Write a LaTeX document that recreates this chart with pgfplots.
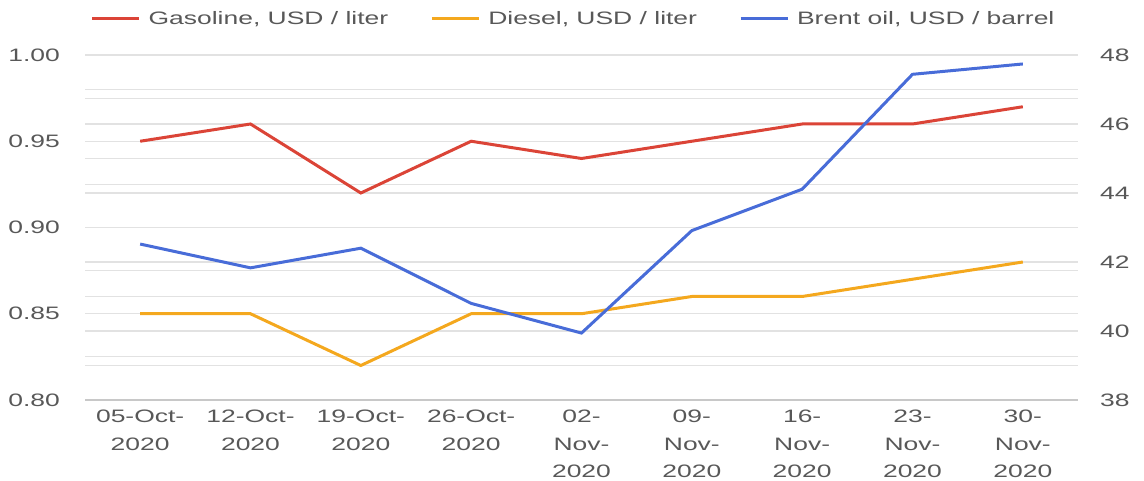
\documentclass[border=0pt]{standalone}
\usepackage{fontspec}
\setmainfont{Liberation Sans}[FakeStretch=1.47]
\usepackage{pgfplots}
\pgfplotsset{compat=1.18}
\definecolor{gas}{RGB}{219,68,55}
\definecolor{dsl}{RGB}{244,168,30}
\definecolor{brt}{RGB}{72,108,216}
\definecolor{txt}{RGB}{88,88,88}
\definecolor{grd}{RGB}{226,226,226}
\begin{document}
\fontsize{18}{27.5}\selectfont
\begin{tikzpicture}[x=1pt,y=1pt]
\useasboundingbox (0,0) rectangle (1144,481);
\pgfplotsset{every axis/.append style={
  at={(85pt,81pt)}, anchor=south west, scale only axis,
  width=993pt, height=345pt,
  xmin=-0.5, xmax=8.5,
  axis line style={draw=none},
  major tick length=0pt, minor tick length=0pt,
  tick label style={font=\fontsize{18}{27.5}\selectfont, text=txt},
  /pgf/number format/assume math mode=true,
}}
\begin{axis}[
  ymin=0.8, ymax=1.0,
  ytick={0.80,0.85,0.90,0.95,1.00},
  minor ytick={0.825,0.875,0.925,0.975,0.82,0.84,0.86,0.88,0.90,0.92,0.94,0.96,0.98},
  ymajorgrids, yminorgrids,
  grid style={grd, line width=1.2pt},
  minor grid style={grd, line width=1.2pt},
  extra y ticks={0.80}, extra y tick labels={},
  extra y tick style={grid=major, major grid style={draw={rgb,255:red,200;green,200;blue,200}, line width=1.3pt}},
  yticklabel style={/pgf/number format/fixed, /pgf/number format/fixed zerofill,
    /pgf/number format/precision=2, xshift=-19pt},
  xtick={0,...,8},
  xticklabels={{05-Oct-\\2020},{12-Oct-\\2020},{19-Oct-\\2020},{26-Oct-\\2020},
    {02-\\Nov-\\2020},{09-\\Nov-\\2020},{16-\\Nov-\\2020},{23-\\Nov-\\2020},{30-\\Nov-\\2020}},
  xticklabel style={align=center, anchor=north, yshift=-4pt},
  legend style={at={(0.5,1)}, anchor=center, yshift=36pt, xshift=-8pt, draw=none, fill=none,
    font=\fontsize{18}{22}\selectfont, text=txt,
    /tikz/every odd column/.append style={column sep=6pt},
    /tikz/every even column/.append style={column sep=40pt}},
  legend columns=3,
  legend image code/.code={\draw[#1, line width=3pt] (0pt,0pt) -- (47pt,0pt);},
]
\addplot[gas, line width=3pt] coordinates {(0,0.95) (1,0.96) (2,0.92) (3,0.95) (4,0.94) (5,0.95) (6,0.96) (7,0.96) (8,0.97)};
\addlegendentry{Gasoline, USD / liter}
\addplot[dsl, line width=3pt] coordinates {(0,0.85) (1,0.85) (2,0.82) (3,0.85) (4,0.85) (5,0.86) (6,0.86) (7,0.87) (8,0.88)};
\addlegendentry{Diesel, USD / liter}
\addlegendimage{brt, line width=3pt}
\addlegendentry{Brent oil, USD / barrel}
\end{axis}
\begin{axis}[
  ymin=38, ymax=48,
  ytick={38,40,...,48},
  axis y line*=right, axis x line=none,
  yticklabel style={anchor=west, xshift=16pt},
]
\addplot[brt, line width=3pt] coordinates {(0,42.52) (1,41.83) (2,42.40) (3,40.80) (4,39.94) (5,42.91) (6,44.11) (7,47.44) (8,47.74)};
\end{axis}
\end{tikzpicture}
\end{document}
